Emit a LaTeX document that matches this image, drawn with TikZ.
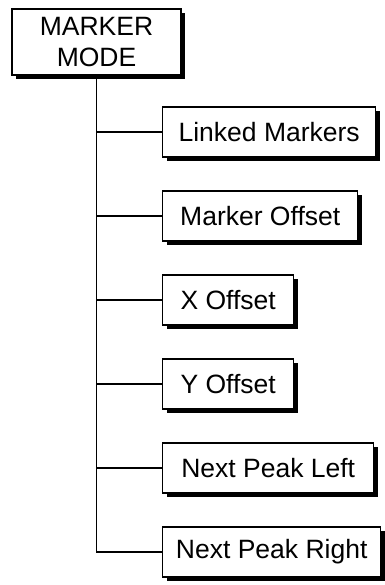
\documentclass[tikz,border=0pt]{standalone}
\usepackage{fontspec}
\setmainfont{Liberation Sans}
\usepackage{tikz}
\usetikzlibrary{shadows,positioning}

\begin{document}
\begin{tikzpicture}[
    x=1pt, y=1pt,
    modebox/.style={rectangle, draw=black, line width=1.4pt, fill=white, align=center, minimum height=66pt, minimum width=169pt, inner sep=0pt, font=\fontsize{26.5}{31}\selectfont, drop shadow={shadow xshift=4pt, shadow yshift=-4pt, fill=black, opacity=1}},
    itembox/.style={rectangle, draw=black, line width=1.4pt, fill=white, anchor=west, minimum height=50pt, inner sep=0pt, font=\fontsize{26.5}{31}\selectfont, drop shadow={shadow xshift=4pt, shadow yshift=-4pt, fill=black, opacity=1}},
    branch/.style={draw=black, line width=1.4pt}
]
    \useasboundingbox (0,0) rectangle (384,-585);

    \node[modebox] (mode) at (96.5,-42) {MARKER\\MODE};

    \node[itembox, minimum width=213pt] (linked) at (162,-132) {Linked Markers};
    \node[itembox, minimum width=195pt] (moffset) at (162,-216) {Marker Offset};
    \node[itembox, minimum width=131pt] (xoffset) at (162,-300) {X Offset};
    \node[itembox, minimum width=131pt] (yoffset) at (162,-384) {Y Offset};
    \node[itembox, minimum width=211pt] (peakleft) at (162,-468) {Next Peak Left};
    \node[itembox, minimum width=218pt] (peakright) at (162,-552) {Next Peak Right};

    \draw[branch] (mode.south) |- (peakright.west);
    \draw[branch] (mode.south) |- (linked.west);
    \draw[branch] (mode.south) |- (moffset.west);
    \draw[branch] (mode.south) |- (xoffset.west);
    \draw[branch] (mode.south) |- (yoffset.west);
    \draw[branch] (mode.south) |- (peakleft.west);
\end{tikzpicture}
\end{document}
